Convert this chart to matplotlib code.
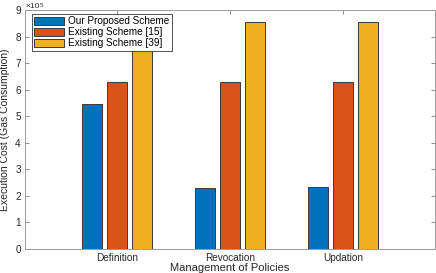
import numpy as np
import matplotlib.pyplot as plt

plt.rcParams['font.family'] = ['Liberation Sans', 'DejaVu Sans']

categories = ['Definition', 'Revocation', 'Updation']
series_names = ['Our Proposed Scheme', 'Existing Scheme [15]', 'Existing Scheme [39]']
proposed = [5.47e5, 2.29e5, 2.33e5]
scheme15 = [6.28e5, 6.28e5, 6.28e5]
scheme39 = [8.53e5, 8.53e5, 8.53e5]
colors = ['#0072BD', '#D95319', '#EDB120']
scale = 1e5

fig = plt.figure(figsize=(4.36, 2.73), dpi=100)
ax = fig.add_axes([25 / 436, 1 - 249 / 273, 410 / 436, 239 / 273])

x = np.arange(1, len(categories) + 1)
width = 0.18
offset = 0.222
for i, (vals, name) in enumerate(zip([proposed, scheme15, scheme39], series_names)):
    ax.bar(x + (i - 1) * offset, np.array(vals) / scale, width, color=colors[i],
           edgecolor='#3a3a3a', linewidth=0.7, label=name, zorder=2)

ax.set_xlim(0.186, 3.814)
ax.set_ylim(0, 9)
ax.set_yticks(np.arange(0, 10, 1))
ax.set_xticks(x)
ax.set_xticklabels(categories)

grey = '#262626'
for s in ax.spines.values():
    s.set_color('#9a9a9a')
    s.set_linewidth(0.7)
ax.tick_params(direction='in', length=3, width=0.6, color='#7a7a7a',
               labelsize=7.2, labelcolor=grey, top=True, right=True, pad=3)
# scale factor, written as two pieces so it fits above the axes
ax.text(0.0, 0.999, '×10', transform=ax.transAxes, fontsize=6,
        color=grey, ha='left', va='bottom')
ax.text(0.036, 1.009, '5', transform=ax.transAxes, fontsize=4.5,
        color=grey, ha='left', va='bottom')

ax.set_xlabel('Management of Policies', fontsize=8, color=grey)
ax.xaxis.set_label_coords(0.5, -0.058)
ax.set_ylabel('Execution Cost (Gas Consumption)', fontsize=7.5, color=grey, labelpad=4)

leg = ax.legend(loc='upper left', bbox_to_anchor=(0.017, 0.985), fontsize=7.2,
                frameon=True, fancybox=False, framealpha=1, edgecolor='#333333',
                handlelength=3.0, handleheight=0.85, handletextpad=0.35,
                borderpad=0.25, labelspacing=0.1, borderaxespad=0)
leg.get_frame().set_linewidth(0.6)
leg.set_zorder(5)

fig.savefig('out.png', dpi=100)
